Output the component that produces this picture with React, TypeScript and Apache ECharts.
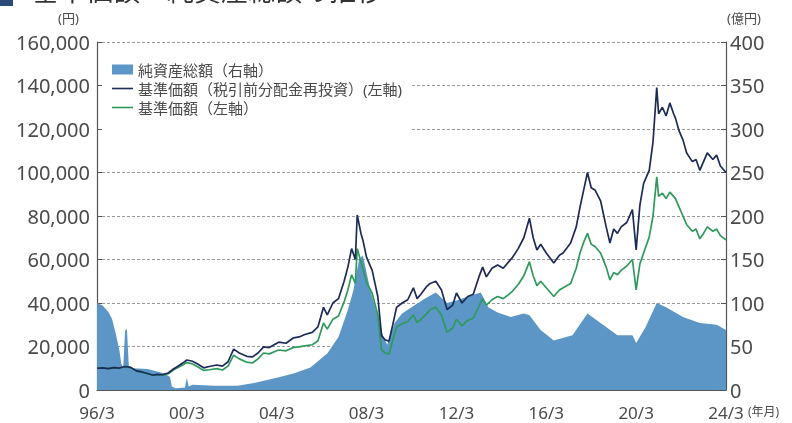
import React, { useEffect, useRef } from "react";
import * as echarts from "echarts";

// ---- data ----
const lineDates = [
  "1996-03","1996-06","1996-09","1996-12","1997-03","1997-06","1997-09","1997-12",
  "1998-03","1998-06","1998-09","1998-11","1999-02","1999-05","1999-08","1999-10",
  "2000-01","2000-03","2000-06","2000-09","2000-12","2001-03","2001-07","2001-10",
  "2002-01","2002-04","2002-07","2002-11","2003-02","2003-05","2003-08","2003-11",
  "2004-04","2004-08","2004-12","2005-03","2005-06","2005-10","2006-01","2006-04",
  "2006-06","2006-09","2006-12","2007-03","2007-05","2007-07","2007-09","2007-10",
  "2007-12","2008-01","2008-03","2008-06","2008-09","2008-11","2009-01","2009-03",
  "2009-05","2009-07","2009-10","2010-01","2010-04","2010-06","2010-08","2010-11",
  "2011-01","2011-04","2011-07","2011-10","2012-01","2012-03","2012-06","2012-09",
  "2012-12","2013-03","2013-05","2013-07","2013-10","2014-01","2014-04","2014-07",
  "2014-09","2014-12","2015-03","2015-06","2015-08","2015-10","2015-12","2016-03",
  "2016-07","2016-10","2016-12","2017-04","2017-07","2017-09","2017-11","2018-01",
  "2018-03","2018-05","2018-08","2018-11","2019-01","2019-03","2019-05","2019-07",
  "2019-10","2020-01","2020-03","2020-05","2020-07","2020-10","2020-12","2021-02",
  "2021-03","2021-05","2021-07","2021-09","2021-11","2021-12","2022-02","2022-04",
  "2022-06","2022-09","2022-11","2023-01","2023-03","2023-05","2023-08","2023-10",
  "2023-12","2024-03",
];
const reinvested = [
  10000,10200,9800,10300,10100,10800,10400,8800,
  8300,7600,6800,7200,7000,7800,9800,10800,
  12500,13800,13200,11800,10200,10800,11500,11000,
  13000,18800,17000,15500,15200,17000,19800,19500,
  22000,21500,24000,24400,25500,26500,29000,38000,
  34500,40000,42000,50000,56500,65000,60000,80500,
  72000,69000,61000,55000,43000,25000,23000,22500,
  30000,38000,40000,41500,47000,42000,44000,47500,
  49000,50000,46000,37000,39000,44600,40000,43000,
  44000,52000,56500,52000,56000,57500,56000,59000,
  61000,65000,70000,79000,70000,64400,67000,63000,
  58400,62000,63000,67600,75000,84000,92000,100000,
  93000,92000,87000,75000,67600,74000,72000,75000,
  77000,83000,64400,85000,95000,101000,114000,139000,
  127000,130000,126000,132000,127000,125000,119000,115000,
  109000,105000,106000,101000,105000,109000,106000,108000,
  103000,100000,
];
const basePrice = [
  10000,10200,9800,10300,10100,10700,10300,8700,
  8200,7500,6700,7000,6800,7500,9300,10200,
  11600,12600,12000,10600,9000,9300,9800,9200,
  11000,16000,14300,12800,12400,14300,17000,16600,
  18400,18000,19600,19800,20300,20800,22500,30800,
  28000,32500,34000,40500,46000,53000,49000,65000,
  59000,56000,49500,44500,34500,18500,17000,16500,
  23000,29000,30500,31500,34500,31000,32500,35000,
  37000,38000,34500,26500,28500,32500,29500,32000,
  33000,38500,42000,39000,41500,43000,42000,44000,
  45500,48500,52500,59000,52500,48000,50000,47000,
  43000,46000,47000,49000,56000,63000,68000,72000,
  67000,66000,63000,56500,50600,54000,53000,55000,
  57000,60000,46000,58000,63000,70400,80000,98000,
  89000,90500,88000,91000,89000,88000,84000,80000,
  76000,73000,74000,69500,72000,75000,73000,74000,
  71000,69000,
];
const assetDates = [
  "1996-03","1996-06","1996-09","1996-11","1997-01","1997-03","1997-04","1997-05",
  "1997-06","1997-07","1997-08","1997-10","1998-06","1999-03","1999-06","1999-07",
  "1999-09","2000-02","2000-03","2000-04","2000-06","2001-06","2002-06","2003-03",
  "2004-03","2004-12","2005-09","2006-06","2006-12","2007-05","2007-08","2007-11",
  "2008-01","2008-05","2008-09","2008-12","2009-02","2009-06","2009-10","2010-03",
  "2010-10","2011-04","2011-10","2012-03","2012-10","2013-04","2013-08","2014-01",
  "2014-08","2015-03","2015-06","2015-12","2016-07","2017-05","2018-01","2018-08",
  "2019-05","2020-01","2020-03","2020-08","2021-02","2021-07","2022-04","2023-01",
  "2023-10","2024-03",
];
const netAssets = [
  100,97,90,82,65,45,30,26,
  68,70,27,25,24,19,15,4,
  2,3,14,4,6,5,5,8,
  14,19,26,42,61,92,115,150,
  155,115,84,61,52,77,88,95,
  105,112,100,103,108,112,95,89,
  84,88,86,69,57,63,88,77,
  63,63,54,72,100,95,84,77,
  75,69,
];
const leftTicks = [0, 20000, 40000, 60000, 80000, 100000, 120000, 140000, 160000];
const rightTicks = [0, 50, 100, 150, 200, 250, 300, 350, 400];
const xTickLabels = ["96/3", "00/3", "04/3", "08/3", "12/3", "16/3", "20/3", "24/3"];

const legendNames = ["純資産総額（右軸）", "基準価額（税引前分配金再投資）(左軸)", "基準価額（左軸）"];

const toIndex = (d: string) => {
  const [y, m] = d.split("-").map(Number);
  return (y - 1996) * 12 + (m - 3);
};

const FONT = "'Noto Sans', 'Noto Sans CJK JP', sans-serif";
const TEXT = "#4a4a4a";
const AXIS = "#555";

export default function App() {
  const ref = useRef<HTMLDivElement>(null);
  useEffect(() => {
    if (!ref.current) return;
    const chart = echarts.init(ref.current, null, { renderer: "svg" });
    const navPairs = lineDates.map((d, i) => [toIndex(d), reinvested[i]]);
    const basePairs = lineDates.map((d, i) => [toIndex(d), basePrice[i]]);
    const assetPairs = assetDates.map((d, i) => [toIndex(d), netAssets[i]]);
    const lineIcon = "path://M0,4.2 L21,4.2 L21,5.8 L0,5.8 Z";
    chart.setOption({
      animation: false,
      textStyle: { fontFamily: FONT },
      grid: { left: 97, right: 66, top: 42, bottom: 33 },
      legend: {
        left: 102,
        top: 54,
        orient: "vertical",
        itemGap: 4,
        itemWidth: 21,
        itemHeight: 10,
        backgroundColor: "#fff",
        padding: [8, 10, 20, 10],
        textStyle: { fontSize: 15, color: TEXT, fontFamily: FONT },
        data: [
          { name: legendNames[0], icon: "rect" },
          { name: legendNames[1], icon: lineIcon, itemStyle: { color: "#1c2b57" } },
          { name: legendNames[2], icon: lineIcon, itemStyle: { color: "#2f9a5c" } },
        ],
      },
      xAxis: {
        type: "value",
        min: 0,
        max: 336,
        interval: 48,
        axisLine: { lineStyle: { color: AXIS, width: 1.2 } },
        axisTick: { inside: true, length: 5, lineStyle: { color: AXIS } },
        splitLine: { show: false },
        axisLabel: {
          fontSize: 17,
          lineHeight: 17,
          color: TEXT,
          margin: 14,
          formatter: (v: number) => xTickLabels[Math.round(v / 48)] ?? "",
        },
      },
      yAxis: [
        {
          type: "value",
          min: 0,
          max: 160000,
          interval: 20000,
          axisLine: { show: true, lineStyle: { color: AXIS, width: 1.2 } },
          axisTick: { show: true, inside: true, length: 5, lineStyle: { color: AXIS } },
          axisLabel: {
            fontSize: 20,
            lineHeight: 18,
            color: TEXT,
            margin: 7,
            formatter: (v: number) => (leftTicks.includes(v) ? v.toLocaleString("en-US") : ""),
          },
          splitLine: { show: true, lineStyle: { color: "#9a9a9a", type: [3, 2], width: 1 } },
        },
        {
          type: "value",
          min: 0,
          max: 400,
          interval: 50,
          position: "right",
          axisLine: { show: true, lineStyle: { color: AXIS, width: 1.2 } },
          axisTick: { show: true, inside: true, length: 5, lineStyle: { color: AXIS } },
          axisLabel: {
            fontSize: 20,
            lineHeight: 18,
            color: TEXT,
            margin: 4,
            formatter: (v: number) => (rightTicks.includes(v) ? String(v) : ""),
          },
          splitLine: { show: false },
        },
      ],
      series: [
        {
          name: legendNames[0],
          type: "line",
          yAxisIndex: 1,
          data: assetPairs,
          symbol: "none",
          lineStyle: { width: 0 },
          itemStyle: { color: "#5b96c7" },
          areaStyle: { color: "#5b96c7", opacity: 1 },
          z: 1,
        },
        {
          name: legendNames[2],
          type: "line",
          yAxisIndex: 0,
          data: basePairs,
          symbol: "none",
          lineStyle: { width: 1.7, color: "#2f9a5c" },
          itemStyle: { color: "#2f9a5c" },
          z: 3,
        },
        {
          name: legendNames[1],
          type: "line",
          yAxisIndex: 0,
          data: navPairs,
          symbol: "none",
          lineStyle: { width: 1.7, color: "#1c2b57" },
          itemStyle: { color: "#1c2b57" },
          z: 4,
        },
      ],
      graphic: [
        { type: "rect", left: 0, top: -8, shape: { width: 13, height: 14 }, style: { fill: "#2a4a7a" } },
        {
          type: "text",
          left: 32,
          top: -23,
          style: { text: "基準価額・純資産総額の推移", fontSize: 27, fill: "#333", fontFamily: FONT },
        },
        { type: "text", left: 58, top: 11, style: { text: "(円)", fontSize: 13, fill: TEXT, fontFamily: FONT } },
        { type: "text", left: 727, top: 11, style: { text: "(億円)", fontSize: 13, fill: TEXT, fontFamily: FONT } },
        { type: "text", left: 748, top: 405, style: { text: "(年月)", fontSize: 12, fill: TEXT, fontFamily: FONT } },
      ],
    });
    return () => chart.dispose();
  }, []);
  return <div ref={ref} style={{ position: "fixed", left: 0, top: 0, width: 792, height: 423 }} />;
}
